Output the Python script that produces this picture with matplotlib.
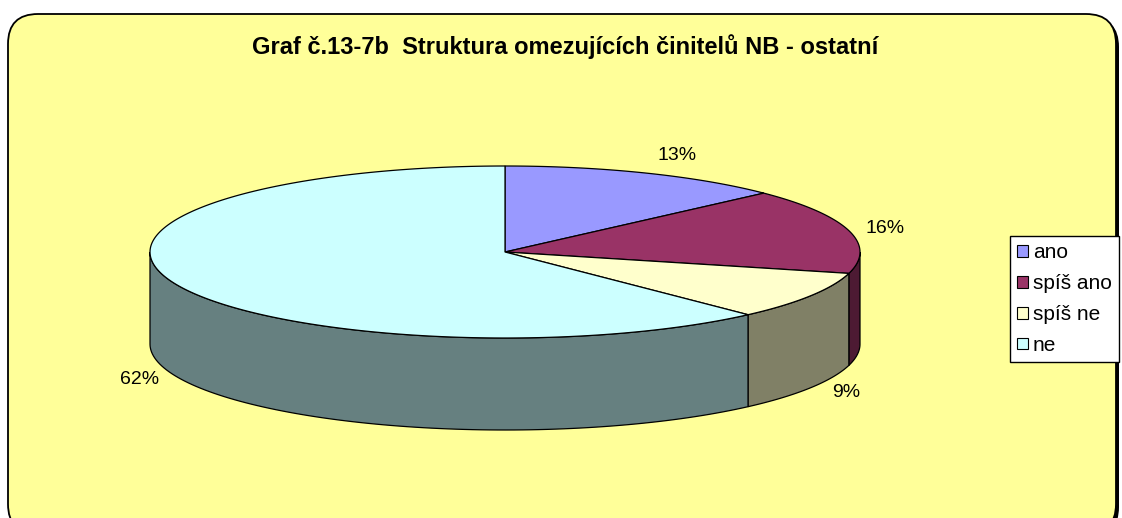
import matplotlib.pyplot as plt
import numpy as np
from matplotlib.patches import Polygon, FancyBboxPatch, Patch

labels = ["ano", "spíš ano", "spíš ne", "ne"]
values = [13, 16, 9, 62]
top_colors = ["#9999FF", "#993366", "#FFFFCC", "#CCFFFF"]
side_colors = ["#4D4D80", "#4D1A33", "#808066", "#668080"]

title = "Graf č.13-7b  Struktura omezujících činitelů NB - ostatní"

plt.rcParams['font.family'] = ['Liberation Sans', 'DejaVu Sans']

fig = plt.figure(figsize=(11.22, 5.18), dpi=100)
ax = fig.add_axes([0, 0, 1, 1])
ax.set_xlim(0, 1122)
ax.set_ylim(518, 0)
ax.axis('off')

# rounded chart area with a small shadow
ax.add_patch(FancyBboxPatch((11, 17), 1108, 520, boxstyle="round,pad=0,rounding_size=30",
                            fc="black", ec="none", zorder=0))
ax.add_patch(FancyBboxPatch((8, 14), 1108, 520, boxstyle="round,pad=0,rounding_size=30",
                            fc="#FFFF99", ec="black", lw=1.3, zorder=1))

# 3d pie geometry (pixels)
cx, cy, rx, ry, depth = 505, 252, 355, 86, 92


def pt(t, dy=0):
    r = np.radians(t)
    return cx + rx * np.sin(r), cy - ry * np.cos(r) + dy


total = sum(values)
bounds = np.concatenate([[0], np.cumsum(values) / total * 360])

# front side walls
for i in range(len(values)):
    lo, hi = max(bounds[i], 90), min(bounds[i + 1], 270)
    if lo >= hi:
        continue
    t = np.linspace(lo, hi, 100)
    top = np.column_stack(pt(t))
    bot = np.column_stack(pt(t, depth))[::-1]
    ax.add_patch(Polygon(np.vstack([top, bot]), closed=True, fc=side_colors[i],
                         ec="black", lw=0.9, zorder=2))

# top faces
for i in range(len(values)):
    t = np.linspace(bounds[i], bounds[i + 1], 200)
    arc = np.column_stack(pt(t))
    ax.add_patch(Polygon(np.vstack([[cx, cy], arc]), closed=True, fc=top_colors[i],
                         ec="black", lw=0.9, zorder=3))

# percentage labels
for i, v in enumerate(values):
    mid = (bounds[i] + bounds[i + 1]) / 2
    r = np.radians(mid)
    front = np.cos(r) < 0
    ex, ey = pt(mid, depth if front else 0)
    d = np.array([rx * np.sin(r), -ry * np.cos(r)])
    d = d / np.hypot(*d)
    ax.text(ex + 36 * d[0], ey + 36 * d[1], f"{v}%", ha="center", va="center",
            fontsize=14, zorder=4)

ax.text(565, 47, title, ha="center", va="center", fontsize=17, fontweight="bold", zorder=4)

handles = [Patch(fc=c, ec="black", lw=0.8) for c in top_colors]
leg = ax.legend(handles, labels, loc="upper left", bbox_to_anchor=(1010 / 1122, 1 - 236 / 518),
                fontsize=15, frameon=True, fancybox=False, edgecolor="black",
                facecolor="white", framealpha=1, handlelength=0.5, handleheight=0.5,
                handletextpad=0.25, labelspacing=0.57, borderpad=0.35, borderaxespad=0)
leg.get_frame().set_linewidth(1)
leg.set_zorder(5)

fig.savefig("out.png", dpi=100)
